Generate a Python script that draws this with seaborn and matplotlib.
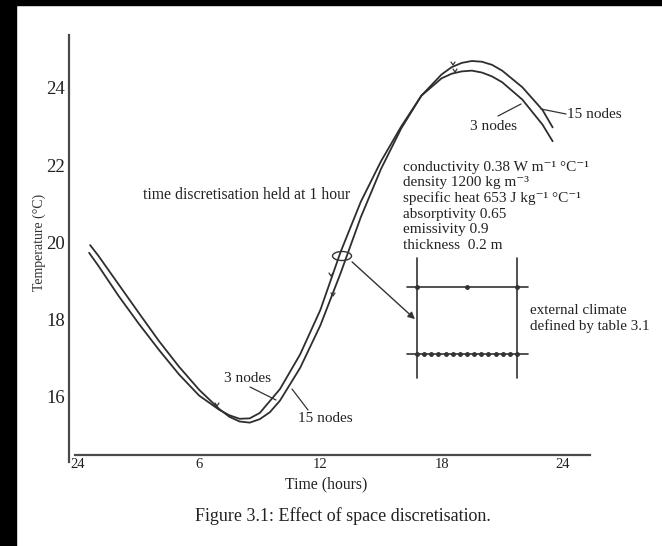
import numpy as np
import pandas as pd
import matplotlib
matplotlib.use("Agg")
import matplotlib.pyplot as plt
import matplotlib.transforms as mtransforms
from matplotlib.patches import Rectangle, Ellipse
from matplotlib.lines import Line2D
import seaborn as sns

# ---- data ----
hours_3 = [0.55, 1, 2, 3, 4, 5, 6, 7, 7.5, 8, 8.5, 9, 10, 11, 12, 13, 14, 15, 16, 17, 18, 18.5, 19,
           19.5, 20, 20.5, 21, 22, 23, 23.5]
temp_3 = [19.73, 19.40, 18.62, 17.90, 17.22, 16.58, 16.03, 15.66, 15.52, 15.43, 15.44, 15.58, 16.20,
          17.10, 18.25, 19.75, 21.05, 22.10, 23.00, 23.80, 24.25, 24.37, 24.43, 24.45, 24.40, 24.30,
          24.15, 23.70, 23.05, 22.62]
hours_15 = [0.6, 1, 2, 3, 4, 5, 6, 7, 7.5, 8, 8.5, 9, 9.5, 10, 11, 12, 13, 14, 15, 16, 17, 18, 18.5,
            19, 19.5, 20, 20.5, 21, 22, 23, 23.5]
temp_15 = [19.93, 19.66, 18.92, 18.18, 17.45, 16.78, 16.18, 15.68, 15.48, 15.36, 15.33, 15.42, 15.60,
           15.90, 16.75, 17.85, 19.20, 20.65, 21.90, 22.95, 23.80, 24.35, 24.54, 24.65, 24.70, 24.68,
           24.60, 24.45, 24.02, 23.43, 22.98]
xtick_pos = [0, 6, 12, 18, 24]
xtick_labels = ["24", "6", "12", "18", "24"]
ytick_pos = [16, 18, 20, 22, 24]

df = pd.concat([
    pd.DataFrame({"hour": hours_3, "temp": temp_3, "series": "3 nodes"}),
    pd.DataFrame({"hour": hours_15, "temp": temp_15, "series": "15 nodes"}),
])

sns.set_theme(style="white")
plt.rcParams["font.family"] = ["Liberation Serif", "DejaVu Serif"]

W, H = 662, 546
fig = plt.figure(figsize=(W / 100, H / 100), dpi=100, facecolor="white")
pix = mtransforms.Affine2D().scale(1 / W, -1 / H).translate(0, 1) + fig.transFigure

ax = fig.add_axes([69 / W, 1 - 462 / H, (590 - 69) / W, (462 - 35) / H])
ax.set_facecolor("none")

sns.lineplot(data=df, x="hour", y="temp", hue="series", palette=["#2e2e2e", "#2e2e2e"],
             estimator=None, sort=False, legend=False, linewidth=1.3, ax=ax)

ax.set_xlim(-0.4455, 25.35)
ax.set_ylim(14.31, 25.373)
for s in ["top", "right"]:
    ax.spines[s].set_visible(False)
for s in ["left", "bottom"]:
    ax.spines[s].set_color("#4a4a4a")
    ax.spines[s].set_linewidth(1.6)
ax.spines["bottom"].set_position(("data", 14.49))
ax.spines["bottom"].set_bounds(-0.15, 25.35)

ax.set_xticks(xtick_pos)
ax.set_xticklabels(xtick_labels)
ax.set_yticks(ytick_pos)
ax.tick_params(direction="in", length=5, width=1, colors="#4a4a4a", labelcolor="#222222")
ax.tick_params(axis="x", pad=2, labelsize=10.5)
ax.tick_params(axis="y", pad=3, labelsize=13.5)
ax.set_xlabel("")
ax.set_ylabel("Temperature (°C)", fontsize=10, color="#333333")
ax.yaxis.set_label_coords((46 - 69) / 521, (462 - 242) / 427)

tc = "#222222"
fs = 11
fig.text(326, 484, "Time (hours)", transform=pix, ha="center", va="center", fontsize=11.3, color=tc)
fig.text(343, 516, "Figure 3.1: Effect of space discretisation.", transform=pix, ha="center",
         va="center", fontsize=13, color=tc)
fig.text(247, 195, "time discretisation held at 1 hour", transform=pix, ha="center", va="center",
         fontsize=11.3, color=tc)

props = ["conductivity 0.38 W m⁻¹ °C⁻¹",
         "density 1200 kg m⁻³",
         "specific heat 653 J kg⁻¹ °C⁻¹",
         "absorptivity 0.65",
         "emissivity 0.9",
         "thickness  0.2 m"]
for i, t in enumerate(props):
    fig.text(403, 167 + 15.7 * i, t, transform=pix, ha="left", va="center", fontsize=fs, color=tc)

fig.text(530, 311, "external climate", transform=pix, ha="left", va="center", fontsize=10.8, color=tc)
fig.text(530, 326, "defined by table 3.1", transform=pix, ha="left", va="center", fontsize=10.8,
         color=tc)

# labels with pointers
fig.text(247, 378, "3 nodes", transform=pix, ha="center", va="center", fontsize=fs, color=tc)
fig.text(325, 418, "15 nodes", transform=pix, ha="center", va="center", fontsize=fs, color=tc)
fig.text(494, 126, "3 nodes", transform=pix, ha="center", va="center", fontsize=fs, color=tc)
fig.text(567, 114, "15 nodes", transform=pix, ha="left", va="center", fontsize=fs, color=tc)
lc = "#333333"
for (x0, y0, x1, y1) in [(250, 387, 276, 400), (308, 410, 292, 389), (498, 116, 521, 104),
                         (566, 114, 541, 109)]:
    fig.add_artist(Line2D([x0, x1], [y0, y1], transform=pix, color=lc, lw=0.9))

# small direction marks on the curves
for (x0, y0) in [(217, 406), (331, 276), (333, 296), (453, 65), (455, 72)]:
    fig.add_artist(Line2D([x0 - 2, x0, x0 + 2], [y0 - 3, y0, y0 - 3], transform=pix, color=lc,
                          lw=0.9))

# ellipse and arrow
fig.add_artist(Ellipse((342, 256), 19, 9, transform=pix, fill=False, edgecolor=lc, lw=1))
ax.annotate("", xy=(417, 321), xytext=(350, 260), xycoords=pix, textcoords=pix,
            arrowprops=dict(arrowstyle="-|>", color=lc, lw=1, mutation_scale=10))

# wall schematic
for x in [417, 517]:
    fig.add_artist(Line2D([x, x], [258, 378], transform=pix, color=lc, lw=1.2))
for y in [287, 354]:
    fig.add_artist(Line2D([407, 528], [y, y], transform=pix, color=lc, lw=1.2))
fig.add_artist(Line2D([417, 467, 517], [287, 287, 287], transform=pix, color=lc, lw=0,
                      marker="o", markersize=2.5))
bx = list(np.linspace(417, 517, 15))
fig.add_artist(Line2D(bx, [354] * 15, transform=pix, color=lc, lw=0, marker="o", markersize=2.5))

# black border strips of the scan
fig.add_artist(Rectangle((0, 0), W, 5, transform=pix, color="black", zorder=10))
fig.add_artist(Rectangle((0, 0), 16, H, transform=pix, color="black", zorder=10))

fig.savefig("out.png", dpi=100, facecolor="white")
